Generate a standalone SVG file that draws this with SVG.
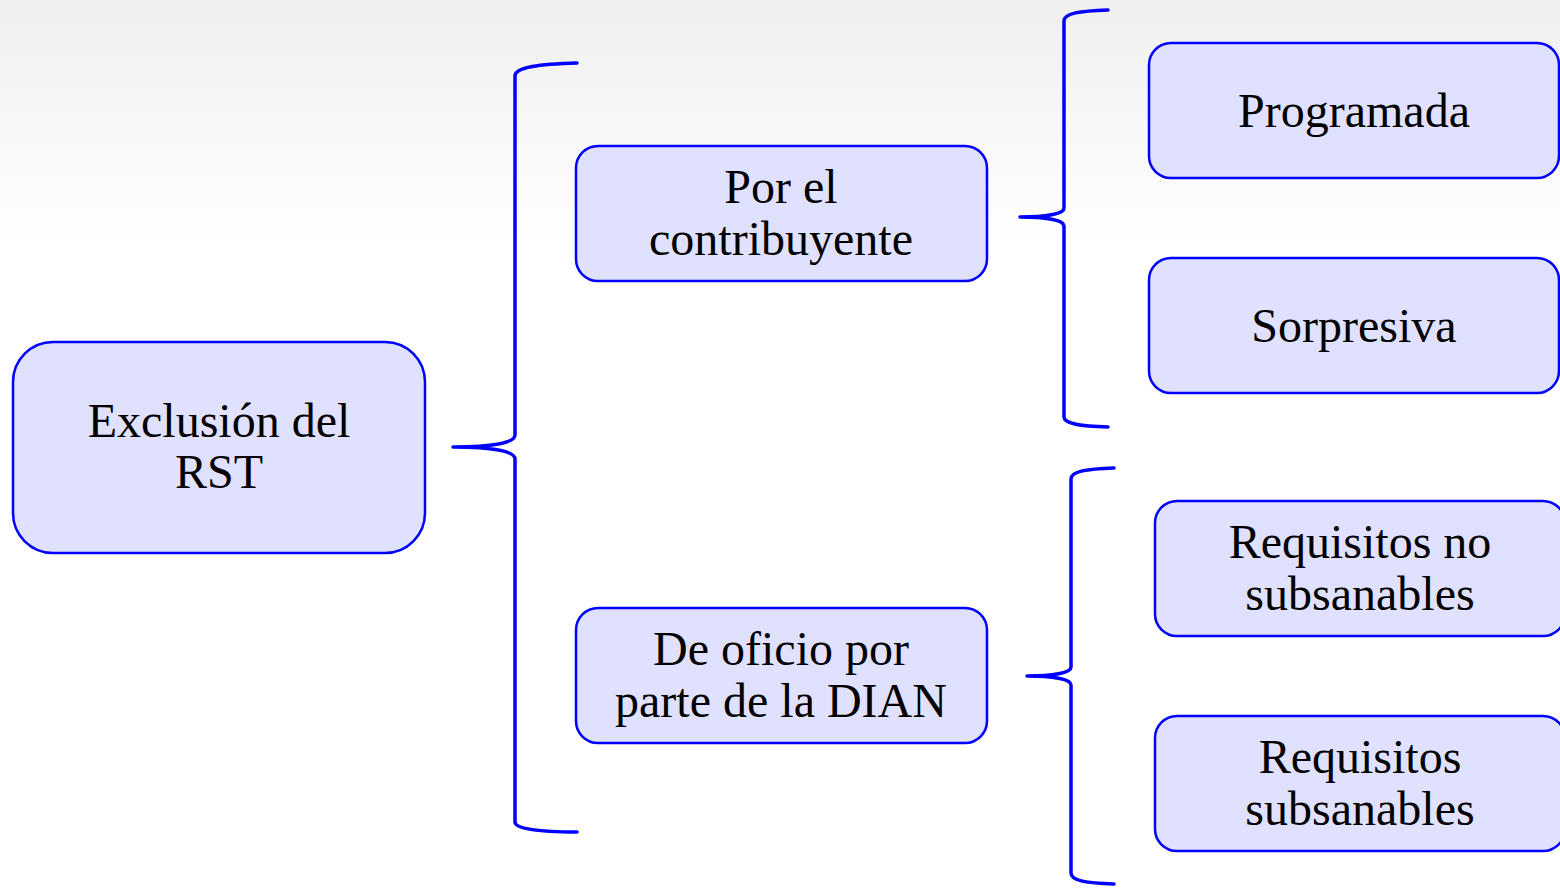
<svg xmlns="http://www.w3.org/2000/svg" width="1560" height="888" viewBox="0 0 1560 888">
<defs>
<linearGradient id="bg" x1="0" y1="0" x2="0" y2="1">
<stop offset="0" stop-color="#efefef"/>
<stop offset="0.28" stop-color="#ffffff"/>
<stop offset="1" stop-color="#ffffff"/>
</linearGradient>
<style>
.box{fill:#e0e0ff;stroke:#0000ff;stroke-width:2.5}
.t{font-family:"Liberation Serif","Times New Roman",serif;font-size:48px;fill:#000;text-anchor:middle}
.br{fill:none;stroke:#0000ff;stroke-width:3.5;stroke-linecap:round;stroke-linejoin:round}
</style>
</defs>
<rect width="1560" height="888" fill="url(#bg)"/>
<g id="connectors">
<path class="br" d="M577,63 C540,64 515,67 515,76 L515,435 C515,443 492,447 453,447 C492,447 515,451 515,459 L515,822 C515,829 540,832 577,832"/>
<path class="br" d="M1108,10 C1080,11 1064,13 1064,21 L1064,208 C1064,214 1045,217 1020,217 C1045,217 1064,220 1064,226 L1064,417 C1064,424 1080,426 1108,427"/>
<path class="br" d="M1114,468 C1087,469 1071,471 1071,479 L1071,667 C1071,673 1052,676 1027,676 C1052,676 1071,679 1071,685 L1071,873 C1071,881 1087,883 1114,884"/>
</g>
<g id="exclusion">
<rect class="box" x="13" y="342" width="412" height="211" rx="40"/>
<text class="t" x="219" y="437">Exclusión del</text>
<text class="t" x="219" y="488">RST</text>
</g>
<g id="contribuyente">
<rect class="box" x="576" y="146" width="411" height="135" rx="22"/>
<text class="t" x="781" y="203">Por el</text>
<text class="t" x="781" y="255">contribuyente</text>
</g>
<g id="dian">
<rect class="box" x="576" y="608" width="411" height="135" rx="22"/>
<text class="t" x="781" y="665">De oficio por</text>
<text class="t" x="781" y="717">parte de la DIAN</text>
</g>
<g id="programada">
<rect class="box" x="1149" y="43" width="410" height="135" rx="22"/>
<text class="t" x="1354" y="127">Programada</text>
</g>
<g id="sorpresiva">
<rect class="box" x="1149" y="258" width="410" height="135" rx="22"/>
<text class="t" x="1354" y="342">Sorpresiva</text>
</g>
<g id="no-subsanables">
<rect class="box" x="1155" y="501" width="410" height="135" rx="22"/>
<text class="t" x="1360" y="558">Requisitos no</text>
<text class="t" x="1360" y="610">subsanables</text>
</g>
<g id="subsanables">
<rect class="box" x="1155" y="716" width="410" height="135" rx="22"/>
<text class="t" x="1360" y="773">Requisitos</text>
<text class="t" x="1360" y="825">subsanables</text>
</g>
</svg>
